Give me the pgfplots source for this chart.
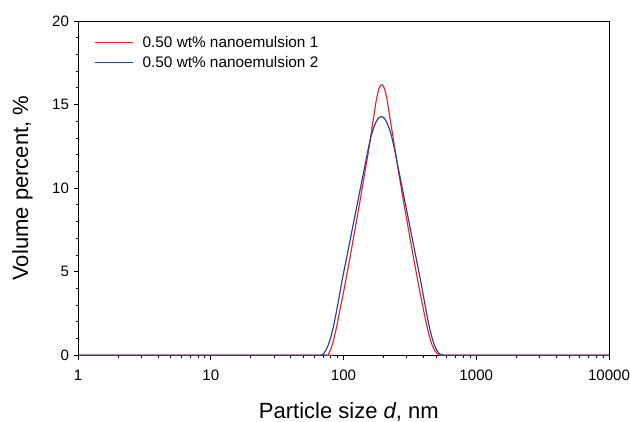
\documentclass[border=0pt]{standalone}
\usepackage{fontspec}
\setmainfont{Liberation Sans}
\usepackage{pgfplots}
\pgfplotsset{compat=1.18}
\definecolor{cred}{RGB}{235,30,36}
\definecolor{cblue}{RGB}{38,62,152}
\begin{document}
\begin{tikzpicture}
\begin{axis}[
  scale only axis,
  width=398pt, height=250.5pt,
  xmode=log,
  xmin=1, xmax=10000,
  ymin=0, ymax=20,
  xtick={1,10,100,1000,10000},
  xticklabels={1,10,100,1000,10000},
  ytick={0,5,10,15,20},
  minor y tick num=4,
  tick align=outside,
  xtick pos=bottom, ytick pos=left,
  major tick length=3.3pt,
  minor tick length=1.8pt,
  every tick/.style={black, line width=0.6pt},
  axis line style={line width=0.7pt},
  /pgf/number format/assume math mode=true,
  tick label style={font=\fontsize{11.3}{13}\selectfont},
  xticklabel style={yshift=-4pt},
  label style={font=\fontsize{16.5}{19}\selectfont},
  xlabel={Particle size \textit{d}, nm},
  ylabel={Volume percent, \%},
  xlabel style={at={(axis description cs:0.51,-0.169)}, anchor=center},
  ylabel style={at={(axis description cs:-0.1045,0.5)}, anchor=center},
  legend style={at={(rel axis cs:0.022,0.972)}, anchor=north west, draw=none, fill=none,
    font=\fontsize{11.5}{13.5}\selectfont, row sep=1.2pt},
  legend cell align=left,
]
\addlegendimage{cred, line width=0.9pt, legend image code/.code={\draw[cred, line width=0.9pt] (0cm,0cm) -- (1cm,0cm); \path (1.18cm,0cm);}}
\addlegendentry{0.50 wt\% nanoemulsion 1}
\addlegendimage{cblue, line width=0.9pt, legend image code/.code={\draw[cblue, line width=0.9pt] (0cm,0cm) -- (1cm,0cm); \path (1.18cm,0cm);}}
\addlegendentry{0.50 wt\% nanoemulsion 2}
\addplot[cred, line width=0.85pt, smooth, tension=0.5, forget plot] coordinates {
(1,0) (60,0) (75.51,0) (77.27,0.08) (80.91,0.45) (84.72,1.0) (88.72,1.7) (92.90,2.5)
(97.27,3.3) (101.86,4.1) (106.66,4.95) (111.69,5.8) (116.95,6.7) (122.46,7.6)
(128.23,8.5) (134.28,9.4) (140.6,10.35) (147.2,11.25) (154.2,12.2) (161.4,13.25)
(169.0,14.3) (177.0,15.3) (185.4,15.97) (194.1,16.2) (203.2,15.97) (212.8,15.3)
(222.8,14.3) (233.3,13.3) (244.3,12.3) (255.9,11.3) (267.9,10.35) (280.5,9.4)
(293.8,8.5) (307.6,7.6) (322.1,6.7) (337.3,5.8) (353.2,4.95) (369.8,4.1)
(387.3,3.3) (405.5,2.5) (424.6,1.75) (444.6,1.1) (465.6,0.6) (487.5,0.28)
(510.5,0.09) (534.6,0.01) (559.8,0) (650,0) (10000,0)
};
\addplot[cblue, line width=0.85pt, smooth, tension=0.5, forget plot] coordinates {
(1,0) (55,0) (67.61,0) (69.98,0.05) (73.28,0.27) (76.74,0.6) (80.35,1.1) (84.14,1.75)
(88.10,2.55) (92.26,3.4) (96.61,4.3) (101.16,5.1) (105.93,5.9) (110.92,6.7)
(116.14,7.5) (121.62,8.3) (127.35,9.1) (133.35,9.9) (139.64,10.7) (146.22,11.5)
(153.11,12.3) (160.32,13.0) (167.88,13.55) (175.79,13.95) (184.08,14.2) (192.75,14.29)
(201.84,14.2) (211.35,13.95) (221.31,13.55) (231.74,13.0) (242.66,12.3) (254.10,11.5)
(266.07,10.7) (278.61,9.9) (291.74,9.1) (305.49,8.3) (319.89,7.5) (334.97,6.7)
(350.75,5.9) (367.28,5.1) (384.59,4.3) (402.72,3.4) (421.70,2.55) (441.57,1.75)
(462.38,1.1) (484.17,0.6) (506.99,0.27) (530.88,0.08) (555.90,0.01) (582.10,0)
(700,0) (10000,0)
};
\end{axis}
\pgfresetboundingbox
\path (current axis.south west) ++(-58.5pt,-49.5pt) coordinate (bl);
\path (current axis.north east) ++(15.75pt,15.75pt) coordinate (tr);
\path[use as bounding box] (bl) rectangle (tr);
\end{tikzpicture}
\end{document}
